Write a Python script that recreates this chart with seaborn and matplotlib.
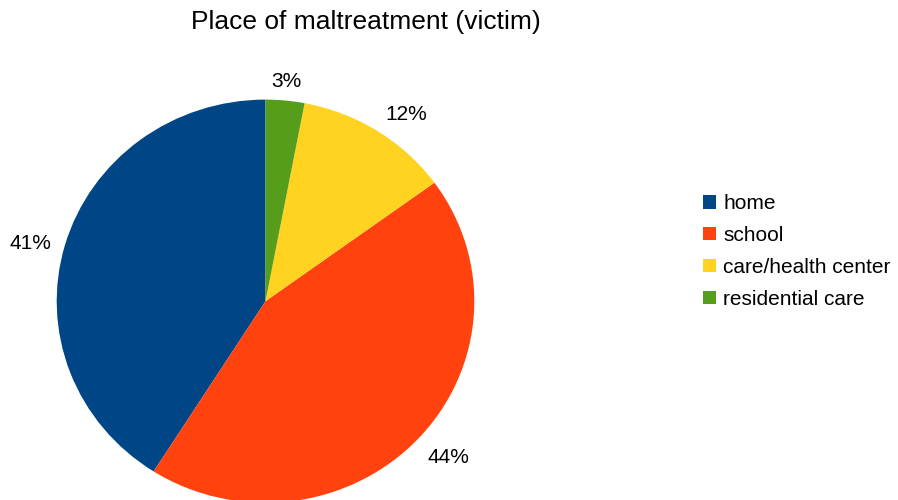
import matplotlib
matplotlib.use("Agg")
import numpy as np
import matplotlib.pyplot as plt
import seaborn as sns

# Places where victims reported maltreatment (share of cases, %)
places = ["home", "school", "care/health center", "residential care"]
shares = [41, 44, 12, 3]
colors = ["#004586", "#ff420e", "#ffd320", "#579d1c"]
title = "Place of maltreatment (victim)"

sns.set_theme(style="white")
plt.rcParams["font.family"] = ["Liberation Sans", "DejaVu Sans"]

W, H = 898, 500
fig = plt.figure(figsize=(W / 100, H / 100), dpi=100)
fig.patch.set_facecolor("white")

# pie area in pixels: centre (265.5, 301.2), radii 208.8 x 201.6
cx, cy, rx, ry = 265.5, 301.2, 208.8, 201.6
ax = fig.add_axes([(cx - rx) / W, (H - cy - ry) / H, 2 * rx / W, 2 * ry / H])
palette = sns.color_palette(colors)

wedges, _ = ax.pie(
    shares,
    colors=palette,
    startangle=90,
    counterclock=True,
    radius=1.0,
    wedgeprops=dict(linewidth=0, edgecolor="none"),
)
ax.set_aspect("auto")
ax.set_xlim(-1, 1)
ax.set_ylim(-1, 1)
ax.axis("off")

# percentage labels just outside each wedge, aligned away from the pie
total = sum(shares)
for w, v in zip(wedges, shares):
    mid = np.deg2rad((w.theta1 + w.theta2) / 2)
    c, s = np.cos(mid), np.sin(mid)
    k = 1.067
    ha = "left" if c > 0.3 else ("right" if c < -0.3 else "center")
    va = "baseline" if s > 0.3 else ("top" if s < -0.3 else "center_baseline")
    ax.text(k * c, k * s, f"{100 * v / total:.0f}%", ha=ha, va=va,
            fontsize=15, color="black", clip_on=False)

fig.text(365.5 / W, 1 - 29.3 / H, title, ha="center", va="baseline",
         fontsize=19, color="black")

leg = fig.legend(
    wedges, places,
    loc="center left",
    bbox_to_anchor=(703 / W, 1 - 251.5 / H),
    bbox_transform=fig.transFigure,
    frameon=False,
    fontsize=15,
    handlelength=0.62,
    handleheight=0.62,
    handletextpad=0.36,
    labelspacing=0.62,
    borderpad=0,
    borderaxespad=0,
)
for t in leg.get_texts():
    t.set_color("black")

fig.savefig("out.png", dpi=100, facecolor="white")
